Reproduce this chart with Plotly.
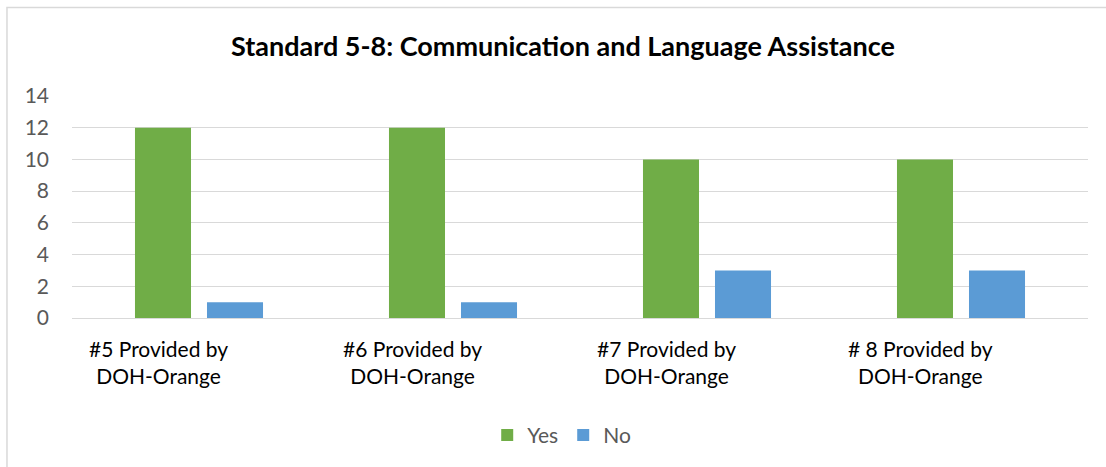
import plotly.graph_objects as go

categories = ["#5 Provided by<br>DOH-Orange", "#6 Provided by<br>DOH-Orange",
              "#7 Provided by<br>DOH-Orange", "# 8 Provided by<br>DOH-Orange"]
yes_values = [12, 12, 10, 10]
no_values = [1, 1, 3, 3]
y_ticks = [0, 2, 4, 6, 8, 10, 12, 14]

FONT = "Lato"
GREEN = "#70AD47"
BLUE = "#5B9BD5"

fig = go.Figure()
fig.add_trace(go.Bar(name="Yes", x=list(range(len(categories))), y=yes_values,
                     marker=dict(color=GREEN, line=dict(width=0))))
fig.add_trace(go.Bar(name="No", x=list(range(len(categories))), y=no_values,
                     marker=dict(color=BLUE, line=dict(width=0))))

# category labels, drawn left of the bar-group centre
for i, label in enumerate(categories):
    fig.add_annotation(x=i, y=0, xref="x", yref="y", text=label, showarrow=False,
                       yanchor="top", xanchor="center", xshift=-41, yshift=-16,
                       align="center",
                       font=dict(family=FONT, size=21, color="#000000"))

# outer chart frame
fig.add_shape(type="rect", xref="paper", yref="paper",
              x0=-0.064, x1=1.2, y0=-1.0, y1=1.399,
              line=dict(color="#D9D9D9", width=1.5), fillcolor="rgba(0,0,0,0)",
              layer="below")

fig.update_layout(
    width=1106, height=467,
    margin=dict(l=72, r=18, t=96, b=148),
    paper_bgcolor="white", plot_bgcolor="white",
    barmode="group", bargap=0.433, bargroupgap=0.222,
    title=dict(text="<b>Standard 5-8: Communication and Language Assistance</b>",
               x=0.509, xanchor="center", y=0.9, yanchor="middle",
               font=dict(family=FONT, size=27, color="#000000")),
    xaxis=dict(range=[-0.5, 3.5], showticklabels=False, showgrid=False,
               zeroline=False, showline=False, ticks=""),
    yaxis=dict(range=[0, 14], tickvals=y_ticks, showgrid=True,
               gridcolor="#D9D9D9", gridwidth=1, zeroline=True,
               zerolinecolor="#D9D9D9", zerolinewidth=1, showline=False,
               ticks="", ticklabelstandoff=22,
               tickfont=dict(family=FONT, size=21, color="#595959")),
    legend=dict(orientation="h", x=0.482, xanchor="center", y=-0.43, yanchor="top",
                font=dict(family=FONT, size=21, color="#595959"),
                itemwidth=30, traceorder="normal"),
    showlegend=True,
)

fig.write_html("out.html")
